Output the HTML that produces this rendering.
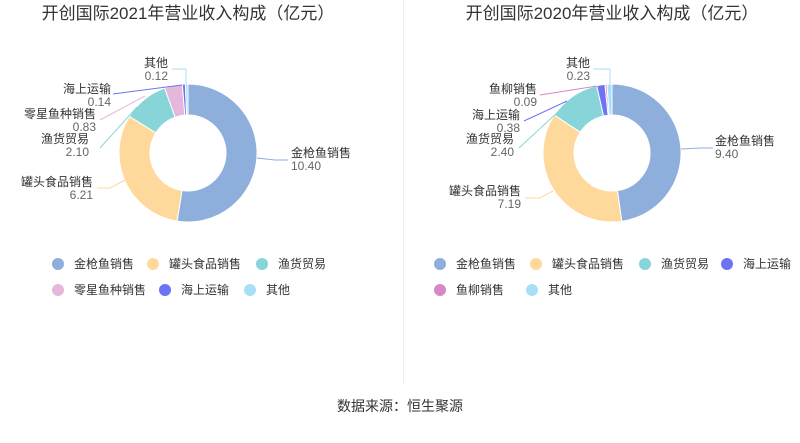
<!DOCTYPE html><html><head><meta charset="utf-8"><style>
body{margin:0;background:#fff;width:800px;height:438px;overflow:hidden;font-family:"Liberation Sans","Noto Sans CJK SC",sans-serif}
</style></head><body>
<svg id="s" width="800" height="438" xmlns="http://www.w3.org/2000/svg" font-family="Liberation Sans, Noto Sans CJK SC, sans-serif">
<line x1="403.5" y1="0" x2="403.5" y2="385" stroke="#eee"/>
<text x="188" y="19" font-size="17" fill="#333" text-anchor="middle">开创国际2021年营业收入构成（亿元）</text>
<text x="612" y="19" font-size="17" fill="#333" text-anchor="middle">开创国际2020年营业收入构成（亿元）</text>
<text x="400" y="411" font-size="14" fill="#333" text-anchor="middle">数据来源：恒生聚源</text>
<g id="g"></g>
</svg>
<script>
const g=document.getElementById('g');let h='';
function donut(cx,cy,R,r,data){let tot=data.reduce((a,d)=>a+d[0],0),a=-Math.PI/2;
for(const d of data){let b=a+d[0]/tot*2*Math.PI,l=(b-a)>Math.PI?1:0;
const p=(ang,rad)=>(cx+rad*Math.cos(ang)).toFixed(2)+' '+(cy+rad*Math.sin(ang)).toFixed(2);
h+=`<path d="M${p(a,R)}A${R} ${R} 0 ${l} 1 ${p(b,R)}L${p(b,r)}A${r} ${r} 0 ${l} 0 ${p(a,r)}Z" fill="${d[1]}" stroke="#fff" stroke-width="1"/>`;a=b;}}
function lab(pts,col,x,y,name,val,anchor){h+=`<polyline points="${pts}" fill="none" stroke="${col}"/>`;
h+=`<text x="${x}" y="${y}" font-size="12" fill="#333" text-anchor="${anchor}">${name}</text><text x="${x}" y="${y+13}" font-size="12" fill="#666" text-anchor="${anchor}">${val}</text>`;}
const B='#8eaedc',Y='#fed99b',T='#87d5d8',P='#e6b7dc',V='#6d74f2',L='#a9def7',M='#d987c8';
donut(188,153,69,38,[[10.40,B],[6.21,Y],[2.10,T],[0.83,P],[0.14,V],[0.12,L]]);
donut(612,153,69,38,[[9.40,B],[7.19,Y],[2.40,T],[0.38,V],[0.09,M],[0.23,L]]);
lab('257,158 275,160 288,160',B,291,157,'金枪鱼销售','10.40','start');
lab('125,180 110,188 97,188',Y,93,186,'罐头食品销售','6.21','end');
lab('137,107 100,148',T,89,143,'渔货贸易','2.10','end');
lab('145,96 100,120',P,96,118,'零星鱼种销售','0.83','end');
lab('182,85 113,94',V,111,93,'海上运输','0.14','end');
lab('186,85 186,69 172,69',L,168,67,'其他','0.12','end');
lab('681,149 700,148 713,148',B,715,145,'金枪鱼销售','9.40','start');
lab('553,191 540,198 525,198',Y,521,195,'罐头食品销售','7.19','end');
lab('559,111 519,148',T,514,143,'渔货贸易','2.40','end');
lab('567,101 524,121',V,520,119,'海上运输','0.38','end');
lab('597,86 540,95',M,537,93,'鱼柳销售','0.09','end');
lab('610,85 610,69 593,69',L,590,67,'其他','0.23','end');
function leg(x,y,c,t){h+=`<circle cx="${x}" cy="${y}" r="6" fill="${c}"/><text x="${x+16}" y="${y+4}" font-size="12" fill="#333">${t}</text>`;}
leg(58,264,B,'金枪鱼销售');leg(153,264,Y,'罐头食品销售');leg(262,264,T,'渔货贸易');
leg(58,290,P,'零星鱼种销售');leg(165,290,V,'海上运输');leg(250,290,L,'其他');
leg(440,264,B,'金枪鱼销售');leg(536,264,Y,'罐头食品销售');leg(645,264,T,'渔货贸易');leg(727,264,V,'海上运输');
leg(440,290,M,'鱼柳销售');leg(532,290,L,'其他');
g.innerHTML=h;
</script></body></html>
